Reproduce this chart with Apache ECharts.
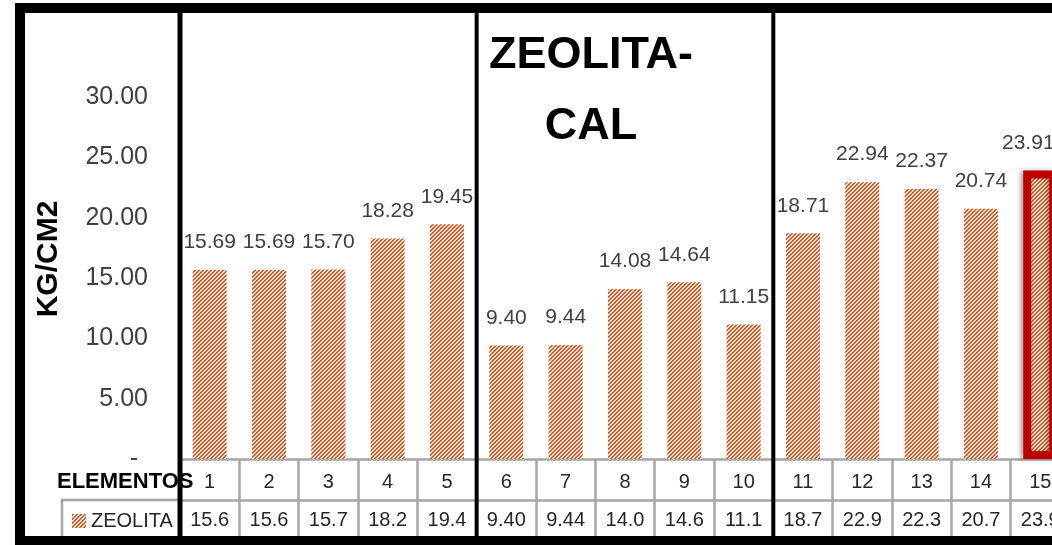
<!DOCTYPE html>
<html>
<head>
<meta charset="utf-8">
<script src="https://cdn.jsdelivr.net/npm/echarts@6/dist/echarts.min.js"></script>
<style>
html,body{margin:0;padding:0;background:#fff;}
#chart{width:1052px;height:545px;}
</style>
</head>
<body>
<div id="chart"></div>
<script>
// ---- data ----
const categories = ['1','2','3','4','5','6','7','8','9','10','11','12','13','14','15'];
const zeolita = [15.69, 15.69, 15.70, 18.28, 19.45, 9.40, 9.44, 14.08, 14.64, 11.15, 18.71, 22.94, 22.37, 20.74, 23.91];
const tableTexts = ['15.6','15.6','15.7','18.2','19.4','9.40','9.44','14.0','14.6','11.1','18.7','22.9','22.3','20.7','23.9'];
const seriesName = 'ZEOLITA';
const titleText = 'ZEOLITA-\nCAL';
const yAxisName = 'KG/CM2';
const xAxisName = 'ELEMENTOS';
const highlightIndex = 14;

// ---- layout / style ----
const FONT = 'Liberation Sans';
const GRID_LEFT = 180, GRID_TOP = 97, GRID_H = 362, CAT_W = 59.33;
const GRID_W = CAT_W * categories.length;
const TABLE_GRAY = '#A6A6A6';
const STRIPE = '#C9632F', GAP = '#F6DDCF';

function hatch() {
  const c = document.createElement('canvas');
  c.width = 4; c.height = 4;
  const g = c.getContext('2d');
  g.fillStyle = GAP; g.fillRect(0, 0, 4, 4);
  g.fillStyle = STRIPE;
  for (let y = 0; y < 4; y++) for (let x = 0; x < 4; x++) {
    if ((x + y) % 4 < 2) g.fillRect(x, y, 1, 1);
  }
  return c;
}
const pattern = { image: hatch(), repeat: 'repeat' };

const barData = zeolita.map((v, i) => {
  if (i !== highlightIndex) return v;
  return {
    value: v,
    itemStyle: { borderColor: '#C00000', borderWidth: 8, shadowBlur: 4, shadowOffsetX: -3, shadowOffsetY: 0, shadowColor: 'rgba(0,0,0,0.3)' },
    label: { offset: [-12, 0] }
  };
});

const sepX = [0, 5, 10].map(k => GRID_LEFT + k * CAT_W);
const sepW = [5, 4, 4];

const chart = echarts.init(document.getElementById('chart'), null, { renderer: 'canvas' });
chart.setOption({
  animation: false,
  backgroundColor: '#fff',
  textStyle: { fontFamily: FONT },
  title: {
    text: titleText,
    left: 586, top: 15, textAlign: 'center',
    textStyle: { fontFamily: FONT, fontWeight: 'bold', fontSize: 45, lineHeight: 71, color: '#000' }
  },
  legend: {
    left: 72, top: 511, padding: 0,
    itemWidth: 14, itemHeight: 14, icon: 'rect',
    textStyle: { fontFamily: FONT, fontSize: 20, color: '#262626' },
    data: [seriesName]
  },
  grid: { left: GRID_LEFT, top: GRID_TOP, width: GRID_W, height: GRID_H, outerBoundsMode: 'none' },
  xAxis: [
    {
      type: 'category', data: categories, position: 'bottom', offset: 0,
      axisLine: { show: true, lineStyle: { color: TABLE_GRAY, width: 2.5 } },
      axisTick: { show: true, interval: 0, length: 41, lineStyle: { color: TABLE_GRAY, width: 2.5 } },
      axisLabel: { interval: 0, margin: 13, fontSize: 20, color: '#262626' }
    },
    {
      type: 'category', data: categories, position: 'bottom', offset: 41,
      axisLine: { show: true, lineStyle: { color: TABLE_GRAY, width: 2.5 } },
      axisTick: { show: true, interval: 0, length: 40, lineStyle: { color: TABLE_GRAY, width: 2.5 } },
      axisLabel: { interval: 0, margin: 10, fontSize: 20, color: '#262626', formatter: (v, i) => tableTexts[i] }
    }
  ],
  yAxis: {
    type: 'value', min: 0, max: 30, interval: 5,
    name: yAxisName, nameLocation: 'middle', nameRotate: 90, nameGap: 116,
    nameTextStyle: { fontFamily: FONT, fontWeight: 'bold', fontSize: 30, color: '#000', padding: [0, 0, 0, 38] },
    axisLine: { show: false }, axisTick: { show: false }, splitLine: { show: false },
    axisLabel: {
      margin: 32, fontSize: 25, color: '#404040',
      formatter: v => v === 0 ? '{z|-}' : v.toFixed(2),
      rich: { z: { fontSize: 25, color: '#404040', padding: [0, 10, 0, 0] } }
    }
  },
  series: [{
    name: seriesName, type: 'bar', xAxisIndex: 0, barWidth: 34,
    itemStyle: { color: pattern },
    label: { show: true, position: 'top', distance: 17, fontSize: 21, color: '#404040', formatter: p => p.value.toFixed(2) },
    data: barData
  }],
  graphic: [
    { type: 'text', z: 90, left: 57, top: 471, style: { text: xAxisName, fontFamily: FONT, fontWeight: 'bold', fontSize: 22, fill: '#000' } },
    { type: 'polyline', z: 100, shape: { points: [[GRID_LEFT, 500], [62, 500], [62, 540]] }, style: { fill: null, stroke: TABLE_GRAY, lineWidth: 2.5 } },
    { type: 'rect', z: 110, shape: { x: 20, y: 8, width: 1200, height: 533 }, style: { fill: null, stroke: '#000', lineWidth: 10 } }
  ].concat(sepX.map((x, k) => ({
    type: 'line', z: 120, shape: { x1: x, y1: 8, x2: x, y2: 541 }, style: { stroke: '#000', lineWidth: sepW[k] }
  })))
});
</script>
</body>
</html>
